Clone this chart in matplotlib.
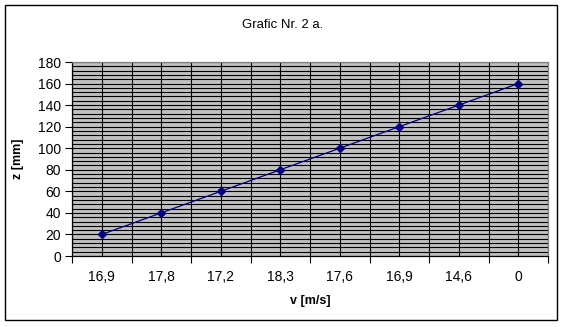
import matplotlib
matplotlib.use("Agg")
import matplotlib.pyplot as plt
from matplotlib.patches import Rectangle
from matplotlib.ticker import MultipleLocator, FixedLocator

plt.rcParams['font.family'] = ['Liberation Sans', 'DejaVu Sans']

# viteza si inaltimea
v_labels = ["16,9", "17,8", "17,2", "18,3", "17,6", "16,9", "14,6", "0"]
z_vals = [20, 40, 60, 80, 100, 120, 140, 160]

W, H = 564, 327
fig = plt.figure(figsize=(W / 100, H / 100), dpi=100)
fig.patch.set_facecolor("white")

# chenarul graficului
fig.patches.append(Rectangle((5 / W, 1 - 320 / H), 552 / W, 315 / H,
                             transform=fig.transFigure, fill=False,
                             edgecolor="black", linewidth=1.0))

ax = fig.add_axes([72 / W, 1 - 256 / H, 476 / W, 194 / H])
ax.set_facecolor("#C0C0C0")

x = list(range(len(z_vals)))
ax.plot(x, z_vals, color="#000080", linewidth=0.9, marker="D",
        markersize=4, markerfacecolor="#000080", markeredgecolor="#000080",
        zorder=5)

ax.set_xlim(-0.5, len(z_vals) - 0.5)
ax.set_ylim(0, 180)

# axa x: liniute la granite, etichete in centru
ax.xaxis.set_major_locator(FixedLocator([i - 0.5 for i in range(len(z_vals) + 1)]))
ax.xaxis.set_minor_locator(FixedLocator(x))
ax.set_xticklabels([""] * (len(z_vals) + 1))
ax.set_xticklabels(v_labels, minor=True)
ax.tick_params(axis="x", which="major", length=5, width=0.8, color="black")
ax.tick_params(axis="x", which="minor", length=0, pad=10, labelsize=10)

# axa y
ax.yaxis.set_major_locator(MultipleLocator(20))
ax.yaxis.set_minor_locator(MultipleLocator(4))
ax.tick_params(axis="y", which="major", length=5, width=0.8, color="black",
               labelsize=10, pad=3)
ax.tick_params(axis="y", which="minor", length=0)

ax.grid(True, which="both", color="black", linewidth=0.8)
ax.set_axisbelow(True)

for side in ("top", "right"):
    ax.spines[side].set_color("#808080")
    ax.spines[side].set_linewidth(0.9)
for side in ("left", "bottom"):
    ax.spines[side].set_color("black")
    ax.spines[side].set_linewidth(0.9)

ax.set_xlabel("v [m/s]", fontsize=9, fontweight="bold", labelpad=8)
ax.set_ylabel("z [mm]", fontsize=9, fontweight="bold", labelpad=10)
fig.text(283 / W, 1 - 25 / H, "Grafic Nr. 2 a.", fontsize=9.5,
         ha="center", va="center")

fig.savefig("out.png", dpi=100)
